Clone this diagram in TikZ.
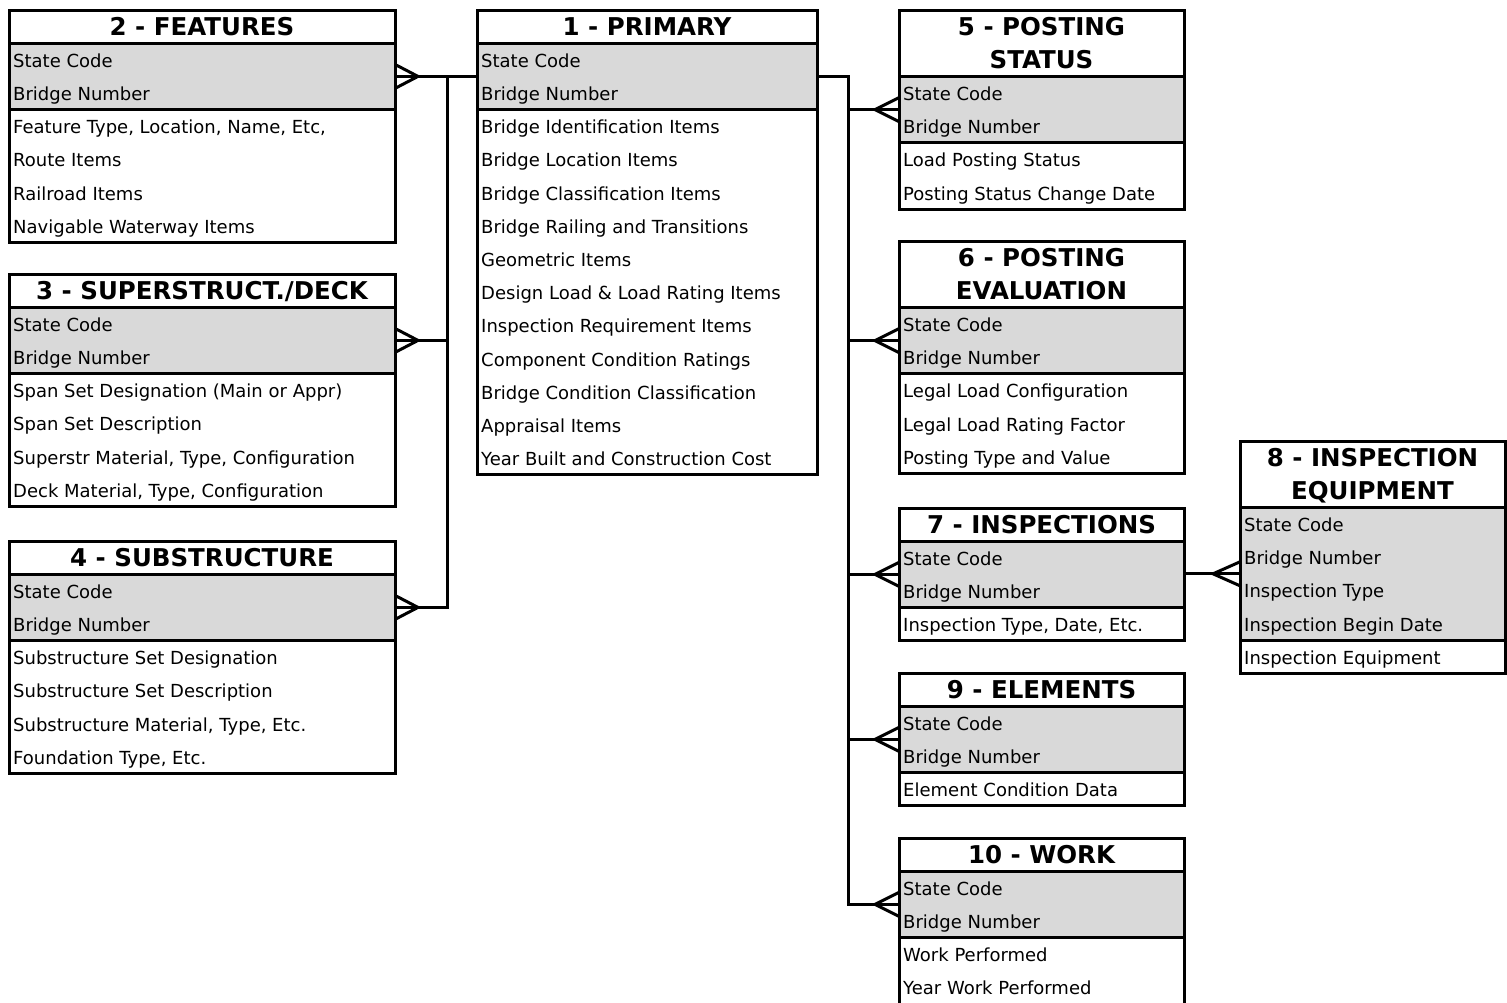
\documentclass[tikz,border=0pt]{standalone}
\usepackage{fontspec}
\setmainfont{DejaVu Sans}
\usetikzlibrary{calc}
\definecolor{keygray}{HTML}{D9D9D9}
\tikzset{
  frame/.style={draw=black, line width=3pt, inner sep=0pt, outer sep=0pt, rectangle},
  keybox/.style={frame, fill=keygray},
  titletext/.style={font=\fontsize{24.5}{24.5}\selectfont\bfseries, inner sep=0pt, text=black},
  rowtext/.style={font=\fontsize{18}{18}\selectfont, inner sep=0pt, text=black},
  conn/.style={line width=3pt, line join=miter, draw=black},
}
\def\rh{33.2}
% #1 name, #2 x, #3 top y, #4 width, #5 title line 1, #6 title line 2, #7 key rows, #8 other rows
\newcommand\erd[8]{%
  \def\tmpb{#6}%
  \ifx\tmpb\empty\def\ntl{1}\else\def\ntl{2}\fi
  \foreach \q [count=\qi] in {#7}{\xdef\nkey{\qi}}%
  \foreach \q [count=\qi] in {#8}{\xdef\nattr{\qi}}%
  \pgfmathsetmacro\th{\ntl*\rh}%
  \pgfmathsetmacro\gy{#3+\th}%
  \pgfmathsetmacro\gh{\nkey*\rh}%
  \pgfmathsetmacro\wy{\gy+\gh}%
  \pgfmathsetmacro\wh{\nattr*\rh}%
  \node[frame, minimum width=#4pt, minimum height=\th pt, anchor=north west] (#1-title) at (#2,#3) {};
  \node[keybox, minimum width=#4pt, minimum height=\gh pt, anchor=north west] (#1) at (#2,\gy) {};
  \node[frame, minimum width=#4pt, minimum height=\wh pt, anchor=north west] (#1-attr) at (#2,\wy) {};
  \node[titletext, anchor=base] (#1-ta) at ({#2+#4/2},{#3+25}) {#5};
  \ifx\tmpb\empty\else
    \node[titletext, anchor=base] (#1-tb) at ({#2+#4/2},{#3+25+\rh}) {#6};
  \fi
  \foreach \q [count=\qi] in {#7}{\node[rowtext, anchor=base west] (#1-k\qi) at ({#2+4},{\gy+(\qi-1)*\rh+24}) {\q};}
  \foreach \q [count=\qi] in {#8}{\node[rowtext, anchor=base west] (#1-a\qi) at ({#2+4},{\wy+(\qi-1)*\rh+24}) {\q};}
}
% crow's foot: #1 point on table edge, #2 signed length toward the tip
\newcommand\crow[2]{%
  \draw[conn] ($(#1)+(0,-12)$) -- ($(#1)+(#2,0)$) -- ($(#1)+(0,12)$);
}
\begin{document}
\begin{tikzpicture}[x=1pt,y=-1pt]
\useasboundingbox (0,0) rectangle (1507,1002);

\erd{t2}{9}{10}{386}{2 - FEATURES}{}{State Code, Bridge Number}
  {{Feature Type, Location, Name, Etc,}, Route Items, Railroad Items, Navigable Waterway Items}
\erd{t3}{9}{274}{386}{3 - SUPERSTRUCT./DECK}{}{State Code, Bridge Number}
  {Span Set Designation (Main or Appr), Span Set Description, {Superstr Material, Type, Configuration}, {Deck Material, Type, Configuration}}
\erd{t4}{9}{541}{386}{4 - SUBSTRUCTURE}{}{State Code, Bridge Number}
  {Substructure Set Designation, Substructure Set Description, {Substructure Material, Type, Etc.}, {Foundation Type, Etc.}}
\erd{t1}{477}{10}{340}{1 - PRIMARY}{}{State Code, Bridge Number}
  {Bridge Identification Items, Bridge Location Items, Bridge Classification Items, Bridge Railing and Transitions, Geometric Items, Design Load \& Load Rating Items, Inspection Requirement Items, Component Condition Ratings, Bridge Condition Classification, Appraisal Items, Year Built and Construction Cost}
\erd{t5}{899}{10}{285}{5 - POSTING}{STATUS}{State Code, Bridge Number}
  {Load Posting Status, Posting Status Change Date}
\erd{t6}{899}{241}{285}{6 - POSTING}{EVALUATION}{State Code, Bridge Number}
  {Legal Load Configuration, Legal Load Rating Factor, Posting Type and Value}
\erd{t7}{899}{508}{285}{7 - INSPECTIONS}{}{State Code, Bridge Number}
  {{Inspection Type, Date, Etc.}}
\erd{t9}{899}{673}{285}{9 - ELEMENTS}{}{State Code, Bridge Number}
  {Element Condition Data}
\erd{t10}{899}{838}{285}{10 - WORK}{}{State Code, Bridge Number}
  {Work Performed, Year Work Performed}
\erd{t8}{1240}{441}{265}{8 - INSPECTION}{EQUIPMENT}{State Code, Bridge Number, Inspection Type, Inspection Begin Date}
  {Inspection Equipment}

% left bus
\coordinate (lbus) at (447,76.5);
\draw[conn] (t2.east) -- (t1.west);
\draw[conn] (t3.east) -- (t3.east -| lbus);
\draw[conn] (t4.east) -| (lbus);
\crow{t2.east}{23}
\crow{t3.east}{23}
\crow{t4.east}{23}

% right bus
\coordinate (rbus) at (848,76.5);
\draw[conn] (t1.east) -| (t10.west -| rbus) -- (t10.west);
\foreach \t in {t5,t6,t7,t9}{\draw[conn] (\t.west) -- (\t.west -| rbus);}
\foreach \t in {t5,t6,t7,t9,t10}{\crow{\t.west}{-24}}

% inspections to equipment
\draw[conn] (t8.west) -- (t8.west -| t7.east);
\crow{t8.west}{-27}
\end{tikzpicture}
\end{document}
